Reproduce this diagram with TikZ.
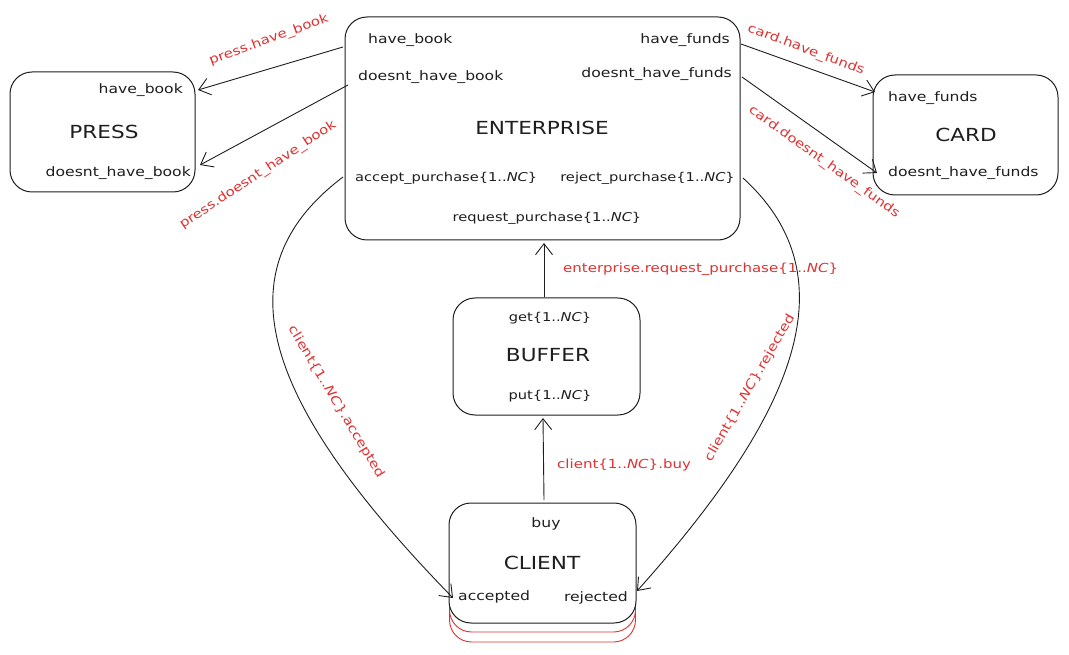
\documentclass[tikz,border=0pt]{standalone}
\usepackage{fontspec}
\setmainfont{DejaVu Sans}[FakeStretch=1.2]
\usetikzlibrary{arrows.meta}
\definecolor{ink}{HTML}{1E1E1E}
\definecolor{redink}{HTML}{E03131}
\tikzset{
  box/.style={draw=ink, line width=1pt, rounded corners=22pt, fill=white, inner sep=0pt},
  redbox/.style={draw=redink, line width=0.9pt, rounded corners=22pt, inner sep=0pt},
  lbl/.style={font=\fontsize{13}{15}\selectfont, text=ink, inner sep=0pt},
  lbls/.style={font=\fontsize{12.2}{15}\selectfont, text=ink, inner sep=0pt},
  ttl/.style={font=\fontsize{18}{20}\selectfont, text=ink, inner sep=0pt},
  rl/.style={font=\fontsize{12.5}{15}\selectfont, text=redink, inner sep=0pt},
  conn/.style={draw=ink, line width=0.9pt, -{Straight Barb[length=11pt,width=17pt,line width=0.9pt]}},
}
\newcommand{\nc}{\textit{NC}}
\begin{document}
\begin{tikzpicture}[x=1pt,y=-1pt]
\useasboundingbox (0,0) rectangle (1069,655);
% boxes
\node[box, minimum width=395pt, minimum height=223pt] (E) at (542.5,128.5) {};
\node[box, minimum width=185pt, minimum height=120pt] (P) at (102.5,132) {};
\node[box, minimum width=185pt, minimum height=120pt] (C) at (965.5,135) {};
\node[box, minimum width=187pt, minimum height=117pt] (B) at (546.5,356.5) {};
\node[redbox, minimum width=186pt, minimum height=120pt] (K2) at (542.5,582) {};
\node[redbox, minimum width=186pt, minimum height=120pt] (K1) at (542.5,572) {};
\node[box, minimum width=187pt, minimum height=120pt] (K) at (542.5,563) {};
% enterprise labels
\node[lbl, anchor=west] (e1) at (368,40) {have\_book};
\node[lbl, anchor=east] (e2) at (730,40) {have\_funds};
\node[lbl, anchor=west] (e3) at (358,77) {doesnt\_have\_book};
\node[lbl, anchor=east] (e4) at (732,74) {doesnt\_have\_funds};
\node[ttl] (e5) at (542,128) {ENTERPRISE};
\node[lbls, anchor=west] (e6) at (355,178) {accept\_purchase\{1..\nc\}};
\node[lbls, anchor=east] (e7) at (735,178) {reject\_purchase\{1..\nc\}};
\node[lbls] (e8) at (547,218) {request\_purchase\{1..\nc\}};
% press labels
\node[lbl, anchor=east] (p1) at (183,90) {have\_book};
\node[ttl] (p2) at (104,132) {PRESS};
\node[lbl, anchor=east] (p3) at (191,173) {doesnt\_have\_book};
% card labels
\node[lbl, anchor=west] (c1) at (888,98) {have\_funds};
\node[ttl] (c2) at (966,135) {CARD};
\node[lbl, anchor=west] (c3) at (888,173) {doesnt\_have\_funds};
% buffer labels
\node[lbls] (b1) at (550,318) {get\{1..\nc\}};
\node[ttl] (b2) at (548,355) {BUFFER};
\node[lbls] (b3) at (550,396) {put\{1..\nc\}};
% client labels
\node[lbl] (k1) at (546,524) {buy};
\node[ttl] (k2) at (542,563) {CLIENT};
\node[lbl, anchor=west] (k3) at (458,597) {accepted};
\node[lbl, anchor=east] (k4) at (628,598) {rejected};
% ports
\coordinate (Ehb) at (343,47);
\coordinate (Edhb) at (348,85);
\coordinate (Ehf) at (741,44);
\coordinate (Edhf) at (742,77);
\coordinate (Eacc) at (343,177);
\coordinate (Erej) at (743,178);
\coordinate (Ereq) at (544,243);
\coordinate (Php) at (198,90);
\coordinate (Pdp) at (200,165);
\coordinate (Chf) at (875,92);
\coordinate (Cdf) at (877,173);
\coordinate (Btop) at (544,297);
\coordinate (Bbot) at (543,418);
\coordinate (Ktop) at (544,500);
\coordinate (Kacc) at (453,598);
\coordinate (Krej) at (637,591);
% connectors
\draw[conn] (Ehb) -- (Php);
\draw[conn] (Edhb) -- (Pdp);
\draw[conn] (Ehf) -- (Chf);
\draw[conn] (Edhf) -- (Cdf);
\draw[conn] (Btop) -- (Ereq);
\draw[conn] (Ktop) -- (Bbot);
\draw[conn] (Eacc) .. controls (220,270) and (260,400) .. (Kacc);
\draw[conn] (Erej) .. controls (855,280) and (790,420) .. (Krej);
% connector labels
\node[rl, rotate=20] (l1) at (269,40) {press.have\_book};
\node[rl, rotate=33.5] (l2) at (258,175) {press.doesnt\_have\_book};
\node[rl, rotate=-20.5] (l3) at (806,50) {card.have\_funds};
\node[rl, rotate=-35.6] (l4) at (824,162) {card.doesnt\_have\_funds};
\node[rl, anchor=west] (l5) at (563,269) {enterprise.request\_purchase\{1..\nc\}};
\node[rl, anchor=west] (l6) at (557,465) {client\{1..\nc\}.buy};
\node[rl, rotate=-59] (l7) at (336,402) {client\{1..\nc\}.accepted};
\node[rl, rotate=60] (l8) at (750,388) {client\{1..\nc\}.rejected};
\end{tikzpicture}
\end{document}
